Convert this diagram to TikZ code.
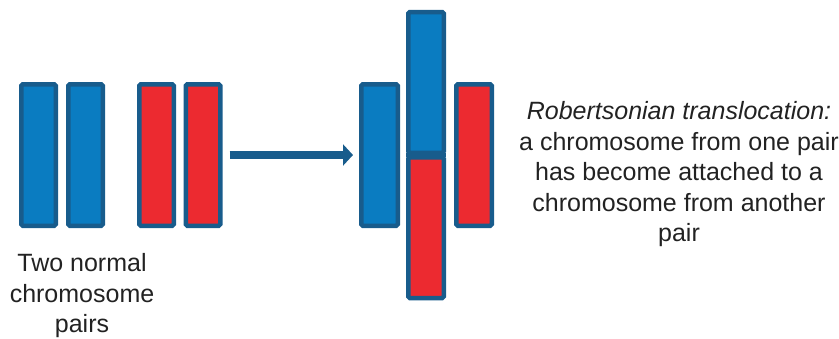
\documentclass[tikz,border=0pt]{standalone}
\usepackage{fontspec}
\setmainfont{Liberation Sans}
\usepackage{tikz}
\usetikzlibrary{arrows.meta}

\definecolor{chromblue}{RGB}{10,124,193}
\definecolor{chromred}{RGB}{236,42,48}
\definecolor{edgeblue}{RGB}{24,92,140}
\definecolor{textgray}{RGB}{34,34,34}

\begin{document}
\begin{tikzpicture}[x=1pt, y=-1pt,
    chrom/.style={draw=edgeblue, line width=4.5pt, rounded corners=1.5pt,
        inner sep=0pt, minimum width=34.5pt, minimum height=141.5pt},
    label/.style={text=textgray, font=\fontsize{25}{30.5}\selectfont,
        align=center, inner sep=0pt}]
            \useasboundingbox (0,0) rectangle (839,338);

            % Draw the two normal pairs
            \node[chrom, fill=chromblue] (b1) at (38.5,155) {};
            \node[chrom, fill=chromblue] (b2) at (85.5,155) {};
            \node[chrom, fill=chromred] (r1) at (156.5,155) {};
            \node[chrom, fill=chromred] (r2) at (203,155) {};

            % Draw the pairs after the translocation
            \node[chrom, fill=chromblue, minimum width=36.5pt] (t1) at (379.5,155) {};
            \node[chrom, fill=chromblue, minimum width=35.5pt, minimum height=140.75pt,
                anchor=south] (tb) at (426,155) {};
            \node[chrom, fill=chromred, minimum width=35.5pt, minimum height=140.75pt,
                anchor=north] (tr) at (426,155) {};
            \draw[edgeblue, line width=4.5pt] (tb.south west) -- (tb.south east);
            \node[chrom, fill=chromred, minimum width=35.5pt] (t3) at (474,155) {};

            % Draw the arrow
            \draw[edgeblue, line width=8pt, -{Triangle[length=10pt, width=21pt]}]
                ([xshift=7pt]r2.east) -- ([xshift=-6pt]t1.west);

            % Label both sides
            \node[label] (before) at (82,296) {Two normal\\chromosome\\pairs};
            \node[label] (after) at (679,174.5) {\textit{Robertsonian translocation:}\\a chromosome from one pair\\has become attached to a\\chromosome from another\\pair};
        \end{tikzpicture}
\end{document}
